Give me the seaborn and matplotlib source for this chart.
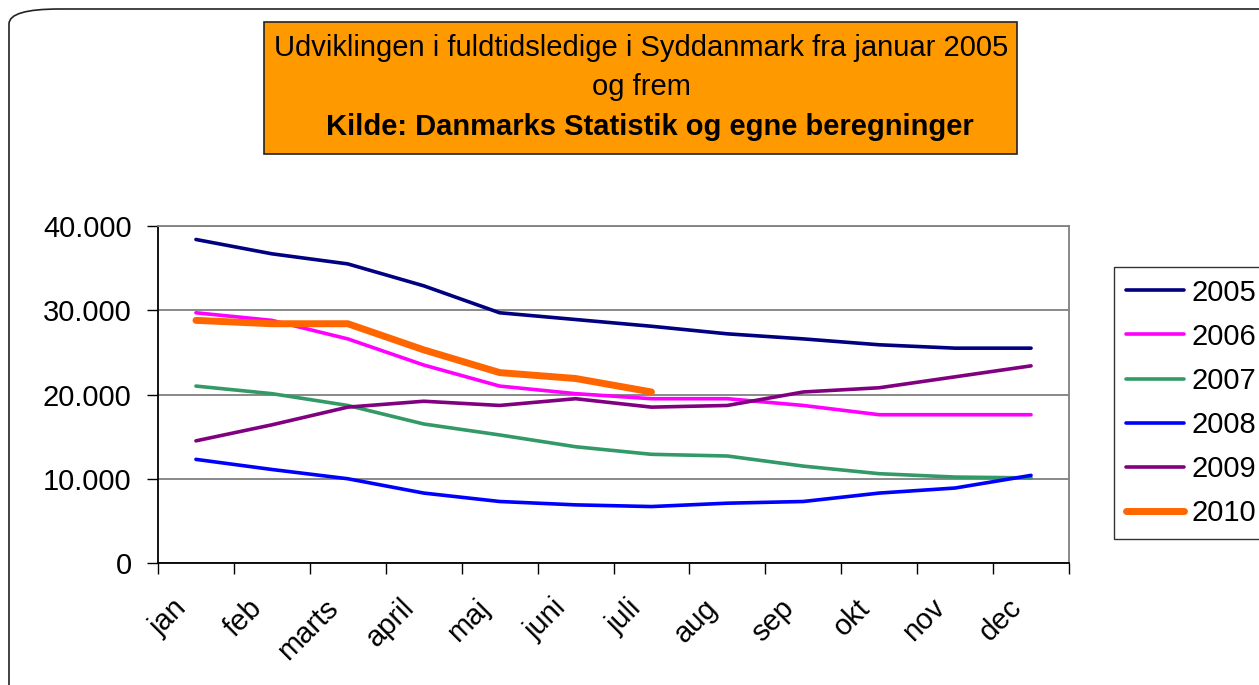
import matplotlib
matplotlib.use("Agg")
import matplotlib.pyplot as plt
from matplotlib.patches import FancyBboxPatch, Rectangle
from matplotlib.ticker import FuncFormatter, FixedLocator
from matplotlib.transforms import ScaledTranslation
import pandas as pd
import seaborn as sns

# data
months = ['jan', 'feb', 'marts', 'april', 'maj', 'juni', 'juli',
          'aug', 'sep', 'okt', 'nov', 'dec']
y2005 = [38400, 36700, 35500, 32900, 29700, 28900, 28100, 27200, 26600, 25900, 25500, 25500]
y2006 = [29700, 28800, 26600, 23500, 21000, 20100, 19500, 19500, 18700, 17600, 17600, 17600]
y2007 = [21000, 20100, 18700, 16500, 15200, 13800, 12900, 12700, 11500, 10600, 10200, 10100]
y2008 = [12300, 11100, 10000, 8300, 7300, 6900, 6700, 7100, 7300, 8300, 8900, 10400]
y2009 = [14500, 16400, 18500, 19200, 18700, 19500, 18500, 18700, 20300, 20800, 22100, 23400]
y2010 = [28800, 28400, 28400, 25300, 22600, 21900, 20300]

series = {'2005': y2005, '2006': y2006, '2007': y2007,
          '2008': y2008, '2009': y2009, '2010': y2010}
colors = {'2005': '#000080', '2006': '#FF00FF', '2007': '#339966',
          '2008': '#0000FF', '2009': '#800080', '2010': '#FF6600'}
widths = {'2005': 2.6, '2006': 2.6, '2007': 2.6, '2008': 2.6, '2009': 2.6, '2010': 5.0}

sns.set_style("white")
plt.rcParams['font.family'] = ['Liberation Sans', 'DejaVu Sans']
plt.rcParams['text.color'] = 'black'
plt.rcParams['xtick.color'] = 'black'
plt.rcParams['ytick.color'] = 'black'

W, H = 1259, 685
fig = plt.figure(figsize=(W / 100, H / 100), dpi=100)
ax = fig.add_axes([158 / W, 1 - 563 / H, (1069 - 158) / W, (563 - 226) / H])

# rounded frame around the whole chart
frame = FancyBboxPatch((9 / W, -0.05), 1.2, 1.05 - 9 / H,
                       boxstyle="round,pad=0,rounding_size=0.04",
                       transform=fig.transFigure, fill=False,
                       edgecolor='#222222', linewidth=1.2, mutation_aspect=H / W)
fig.patches.append(frame)

for year, vals in series.items():
    df = pd.DataFrame({'x': list(range(len(vals))), 'v': vals})
    sns.lineplot(data=df, x='x', y='v', ax=ax, color=colors[year],
                 linewidth=widths[year], label=year, solid_capstyle='round')

ax.set_xlim(-0.5, len(months) - 0.5)
ax.set_ylim(0, 40000)
ax.set_xlabel('')
ax.set_ylabel('')

ax.set_yticks([0, 10000, 20000, 30000, 40000])
ax.yaxis.set_major_formatter(FuncFormatter(lambda v, p: f"{int(v):,}".replace(',', '.')))
ax.yaxis.grid(True, color='#808080', linewidth=1.3)
ax.tick_params(axis='y', labelsize=21, length=8, width=1, direction='out', left=True, pad=11,
               labelcolor='black')

ax.set_xticks(range(len(months)))
ax.set_xticklabels(months, rotation=45, ha='right', rotation_mode='anchor', fontsize=21,
                   color='black')
ax.tick_params(axis='x', which='major', length=0, pad=22)
shift = ScaledTranslation(-0.24, 0.0, fig.dpi_scale_trans)
for lab in ax.get_xticklabels():
    lab.set_transform(lab.get_transform() + shift)
ax.xaxis.set_minor_locator(FixedLocator([i - 0.5 for i in range(len(months) + 1)]))
ax.tick_params(axis='x', which='minor', length=8, width=1, direction='out', bottom=True)

for s in ['top', 'right']:
    ax.spines[s].set_color('#808080')
    ax.spines[s].set_linewidth(1.3)
for s in ['left', 'bottom']:
    ax.spines[s].set_color('#000000')
    ax.spines[s].set_linewidth(1.3)

leg = ax.legend(loc='upper left', bbox_to_anchor=(1114 / W, 1 - 267 / H),
                bbox_transform=fig.transFigure, frameon=True, fancybox=False,
                fontsize=21, handlelength=2.0, handletextpad=0.25,
                labelspacing=0.55, borderpad=0.4, borderaxespad=0, labelcolor='black')
leg.get_frame().set_edgecolor('#000000')
leg.get_frame().set_linewidth(1.0)

# title box
fig.patches.append(Rectangle((264 / W, 1 - 154 / H), (1017 - 264) / W, (154 - 22) / H,
                             transform=fig.transFigure, facecolor='#FF9900',
                             edgecolor='#222222', linewidth=1.2))
fig.text(641 / W, 1 - 48 / H, "Udviklingen i fuldtidsledige i Syddanmark fra januar 2005",
         ha='center', va='center', fontsize=21, color='black')
fig.text(641 / W, 1 - 87 / H, "og frem", ha='center', va='center', fontsize=21, color='black')
fig.text(650 / W, 1 - 127 / H, "Kilde: Danmarks Statistik og egne beregninger",
         ha='center', va='center', fontsize=21, fontweight='bold', color='black')

fig.savefig('out.png', dpi=100)
